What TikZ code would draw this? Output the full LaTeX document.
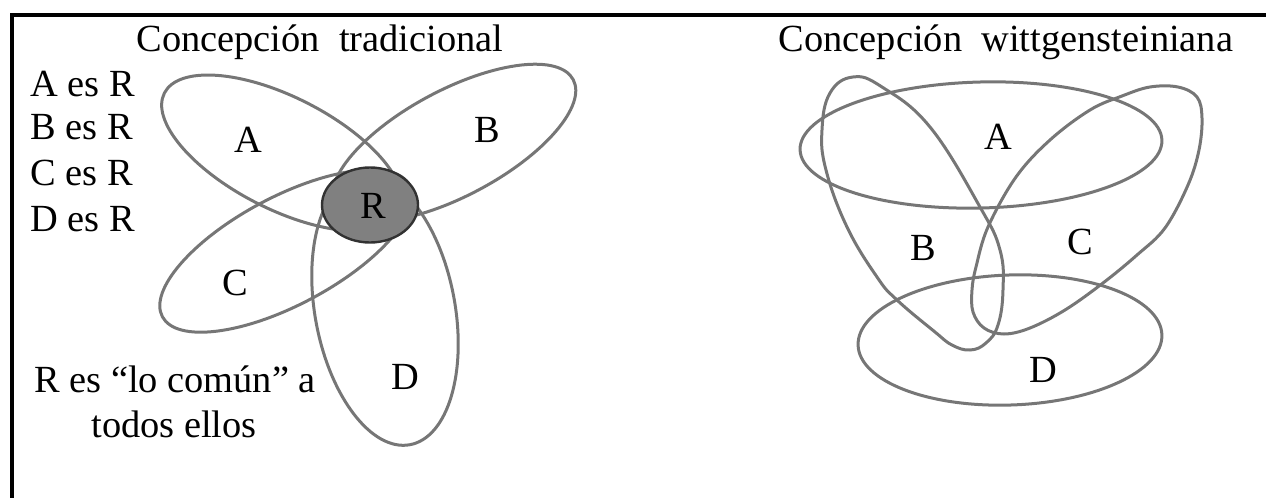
\documentclass[tikz,border=0pt]{standalone}
\usepackage{fontspec}
\setmainfont{Liberation Serif}
\definecolor{petalgray}{RGB}{118,118,118}
\definecolor{rfill}{RGB}{128,128,128}
\definecolor{rdraw}{RGB}{50,50,50}
\tikzset{
  petal/.style={draw=petalgray, line width=1.5pt},
  txt/.style={inner sep=0pt, font=\fontsize{19.2}{23}\selectfont},
  lbl/.style={inner sep=0pt, font=\fontsize{19.2}{23}\selectfont},
  frameline/.style={line width=2pt, black}
}
\begin{document}
\begin{tikzpicture}[x=0.5pt,y=-0.5pt]
\useasboundingbox (0,0) rectangle (1266,498);
% frame
\coordinate (fr) at (1266,15);
\coordinate (fc) at (12,15);
\coordinate (fb) at (12,498);
\draw[frameline] (fr) -- (fc) -- (fb);

% titles
\node[txt, anchor=base] (t1) at (320,52) {Concepción\ \ tradicional};
\node[txt, anchor=base] (t2) at (1006,52) {Concepción\ \ wittgensteiniana};

% left texts
\node[txt, anchor=base west] (ar) at (30,97) {A es R};
\node[txt, anchor=base west] (br) at (30,140) {B es R};
\node[txt, anchor=base west] (cr) at (30,185) {C es R};
\node[txt, anchor=base west] (dr) at (30,231) {D es R};
\node[txt, anchor=base] (rc1) at (175,392) {R es “lo común” a};
\node[txt, anchor=base] (rc2) at (174,437) {todos ellos};

% left petals
\draw[petal, rotate around={-27:(282,153)}] (282,153) ellipse [x radius=132, y radius=56];
\draw[petal, rotate around={28:(454,143)}] (454,143) ellipse [x radius=135, y radius=53];
\draw[petal, rotate around={28:(286,251)}] (286,251) ellipse [x radius=140, y radius=54];
\draw[petal, rotate around={10.5:(385,310)}] (385,310) ellipse [x radius=70, y radius=137];
\fill[rfill, draw=rdraw, line width=1.2pt] (370,205) ellipse [x radius=48, y radius=37.5];

\node[lbl] (la) at (248,140) {A};
\node[lbl] (lb) at (487,130) {B};
\node[lbl] (lc) at (235,283) {C};
\node[lbl] (ld) at (405,377) {D};
\node[lbl] (lr) at (373,206) {R};

% right petals
\draw[petal, rotate around={1.5:(981,145)}] (981,145) ellipse [x radius=181, y radius=63];
\draw[petal, rotate around={2:(1010,340)}] (1010,340) ellipse [x radius=152, y radius=65];
\draw[petal] plot[smooth cycle, tension=0.7] coordinates {
  (853,77) (882,87) (930,127) (980,207) (1000,250) (1003,290) (998,325)
  (986,343) (970,350) (952,345) (935,332) (897,300) (877,277) (847,227)
  (826,170) (822,130) (830,93)};
\draw[petal] plot[smooth cycle, tension=0.6] coordinates {
  (1178,87) (1197,97) (1202,118) (1199,150) (1188,185) (1165,228) (1137,255)
  (1103,283) (1065,310) (1030,328) (1004,334) (984,328) (973,312) (972,290)
  (976,267) (988,227) (1016,177) (1050,140) (1090,110) (1122,96) (1150,87)};

\node[lbl] (ra) at (998,137) {A};
\node[lbl] (rb) at (923,248) {B};
\node[lbl] (rcl) at (1080,242) {C};
\node[lbl] (rd) at (1043,370) {D};
\end{tikzpicture}
\end{document}
